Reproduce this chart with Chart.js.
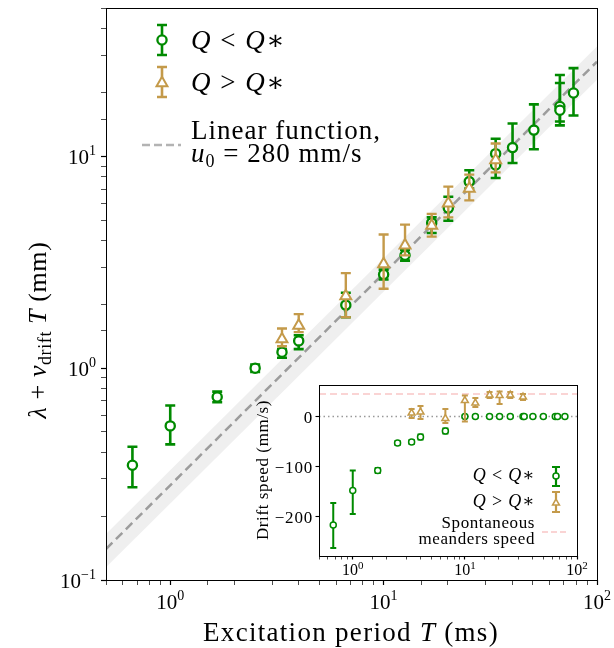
<!DOCTYPE html>
<html lang="en">
<head>
<meta charset="UTF-8">
<title>Excitation period vs wavelength</title>
<script src="https://cdn.jsdelivr.net/npm/chart.js"></script>
<style>
  body { margin: 0; background: #fff; }
  .wrap { position: relative; width: 614px; height: 648px; }
  .wrap canvas { position: absolute; left: 0; top: 0; }
</style>
</head>
<body>
<div class="wrap">
  <canvas id="mainChart" width="614" height="648"></canvas>
  <canvas id="insetChart" width="614" height="648"></canvas>
</div>
<script>
// ---- main panel: lambda + v_drift T (mm) vs T (ms) ----
const lowT  = [0.665, 1.0, 1.66, 2.5, 3.34, 4.0, 6.65, 10.0, 12.6, 16.8, 20.1, 25.2, 33.5, 33.5, 40.2, 50.6, 67, 67, 77.6];
const lowL  = [0.348, 0.534, 0.731, 1.0, 1.19, 1.345, 1.985, 2.77, 3.41, 4.85, 5.7, 7.6, 10.3, 9.1, 11.0, 13.3, 17.2, 16.5, 19.9];
const lowLo = [0.274, 0.437, 0.69, 0.96, 1.12, 1.23, 1.74, 2.62, 3.22, 4.35, 4.97, 7.05, 9.4, 7.9, 9.3, 10.8, 14.0, 14.6, 15.6];
const lowHi = [0.426, 0.666, 0.775, 1.04, 1.23, 1.43, 2.27, 2.92, 3.62, 5.15, 6.45, 8.6, 12.1, 10.2, 14.3, 17.6, 24.2, 22.2, 26.1];

const highT  = [3.34, 4.0, 6.65, 10.0, 12.6, 16.8, 20.1, 25.2, 33.5];
const highL  = [1.37, 1.59, 2.19, 3.1, 3.8, 4.71, 6.0, 7.05, 9.6];
const highLo = [1.27, 1.48, 1.74, 2.37, 3.41, 4.18, 5.15, 6.2, 8.4];
const highHi = [1.54, 1.80, 2.81, 4.28, 4.76, 5.35, 7.2, 8.2, 11.5];

// linear function u0 = 280 mm/s and its shaded band
const fitT   = [0.5, 100];
const fitL   = [0.14, 28];
const bandLo = [0.115, 23];
const bandHi = [0.165, 33];

// ---- inset: drift speed (mm/s) vs T (ms) ----
const dLowT  = [0.67, 1.0, 1.67, 2.51, 3.35, 4.02, 6.7, 10, 12.4, 16.6, 20.4, 25.4, 33, 33.8, 40.4, 50.1, 64, 67, 78];
const dLowV  = [-217, -148, -108, -53, -51, -41, -29, 0, 0, 0, 0, 0, 0, 0, 0, 0, 0, 0, 0];
const dLowLo = [-263, -195, -113, -57, -55, -46, -34, -2, -2, -2, -2, -2, -2, -3, -2, -2, -2, -2, -2];
const dLowHi = [-173, -108, -103, -49, -47, -36, -24, 2, 2, 2, 2, 2, 2, 3, 2, 2, 2, 2, 2];

const dHighT  = [3.35, 4.02, 6.7, 10, 12.4, 16.6, 20.4, 25.4, 33];
const dHighV  = [7, 9, -4, 32, 27, 43, 42, 43, 39];
const dHighLo = [-3, -5, -13, -10, 19, 37, 25, 37, 33];
const dHighHi = [15, 21, 15, 42, 37, 49, 50, 49, 45];

const refT = [0.5, 100];
const zeroV = [0, 0];
const meanderV = [45, 45];

const GREEN = '#008a00';
const GOLD = '#c49a4a';
const SERIF = '"Liberation Serif", "DejaVu Serif", serif';
const font = (size, style) => (style ? style + ' ' : '') + size + 'px ' + SERIF;
const pts = (xs, ys) => xs.map((x, i) => ({ x: x, y: ys[i] }));
const isPow10 = v => Math.abs(Math.log10(v) - Math.round(Math.log10(v))) < 1e-9;

// draw a run of text pieces with different fonts / offsets
function drawParts(ctx, parts, x, y, align, spacing) {
  ctx.save();
  ctx.letterSpacing = (spacing || 0) + 'px';
  let w = 0;
  parts.forEach(p => { ctx.font = p.font; p.w = ctx.measureText(p.text).width; w += p.w; });
  let cx = align === 'center' ? x - w / 2 : align === 'right' ? x - w : x;
  ctx.textAlign = 'left';
  ctx.textBaseline = 'alphabetic';
  parts.forEach(p => { ctx.font = p.font; ctx.fillText(p.text, cx, y + (p.dy || 0)); cx += p.w; });
  ctx.restore();
}

function powLabel(exp, big, small, rise) {
  return [{ text: '10', font: font(big) }, { text: exp, font: font(small), dy: -rise }];
}

function qLabel(size, op) {
  return [
    { text: 'Q', font: font(size, 'italic') },
    { text: ' ' + op + ' ', font: font(size) },
    { text: 'Q', font: font(size, 'italic') },
    { text: '\u2217', font: font(size) }
  ];
}

function drawMarker(ctx, shape, x, y, r, lw, color) {
  ctx.save();
  ctx.fillStyle = '#fff';
  ctx.strokeStyle = color;
  ctx.lineWidth = lw;
  ctx.beginPath();
  if (shape === 'circle') {
    ctx.arc(x, y, r, 0, Math.PI * 2);
  } else {
    for (let k = 0; k < 3; k++) {
      const a = -Math.PI / 2 + k * 2 * Math.PI / 3;
      const px = x + Math.cos(a) * r, py = y + Math.sin(a) * r;
      k ? ctx.lineTo(px, py) : ctx.moveTo(px, py);
    }
    ctx.closePath();
  }
  ctx.fill();
  ctx.stroke();
  ctx.restore();
}

function drawBar(ctx, x, y1, y2, cap, lw, color) {
  ctx.save();
  ctx.strokeStyle = color;
  ctx.lineWidth = lw;
  ctx.beginPath();
  ctx.moveTo(x, y1); ctx.lineTo(x, y2);
  ctx.moveTo(x - cap, y1); ctx.lineTo(x + cap, y1);
  ctx.moveTo(x - cap, y2); ctx.lineTo(x + cap, y2);
  ctx.stroke();
  ctx.restore();
}

// error bars drawn just before each dataset's markers
const errorBars = {
  id: 'errorBars',
  beforeDatasetDraw(chart, args) {
    const ds = chart.data.datasets[args.index];
    if (!ds.errLo) return;
    const xs = chart.scales.x, ys = chart.scales.y;
    ds.data.forEach((p, i) => {
      drawBar(chart.ctx, xs.getPixelForValue(p.x), ys.getPixelForValue(ds.errLo[i]),
        ys.getPixelForValue(ds.errHi[i]), ds.capHalf, ds.errWidth, ds.borderColor);
    });
  }
};

const frame = {
  id: 'frame',
  beforeDraw(chart, args, opts) {
    if (!opts.fill) return;
    const a = chart.chartArea;
    chart.ctx.save();
    chart.ctx.fillStyle = '#fff';
    chart.ctx.fillRect(a.left, a.top, a.right - a.left, a.bottom - a.top);
    chart.ctx.restore();
  },
  afterDraw(chart) {
    const a = chart.chartArea, ctx = chart.ctx;
    ctx.save();
    ctx.strokeStyle = '#000';
    ctx.lineWidth = 1;
    ctx.strokeRect(Math.round(a.left) + 0.5, Math.round(a.top) + 0.5,
      Math.round(a.right - a.left), Math.round(a.bottom - a.top));
    ctx.restore();
  }
};

function logAxis(min, max, tickLen, extra) {
  return Object.assign({
    type: 'logarithmic', min: min, max: max,
    border: { display: false },
    grid: {
      drawOnChartArea: false, drawTicks: true, tickLength: tickLen, color: '#000',
      tickWidth: c => (c.tick && isPow10(c.tick.value)) ? 1.2 : 0.7
    },
    ticks: { display: false, autoSkip: false }
  }, extra);
}

// ---------------- main chart ----------------
const mainLabels = {
  id: 'mainLabels',
  afterDraw(chart) {
    const ctx = chart.ctx, xs = chart.scales.x, ys = chart.scales.y;
    ctx.save();
    ctx.fillStyle = '#000';
    [[1, '0'], [10, '1'], [100, '2']].forEach(([v, e]) => {
      drawParts(ctx, powLabel(e, 21, 14, 9), xs.getPixelForValue(v), 609, 'center');
    });
    [[0.1, '\u22121'], [1, '0'], [10, '1']].forEach(([v, e]) => {
      drawParts(ctx, powLabel(e, 21, 14, 9), 96, ys.getPixelForValue(v) + 8, 'right');
    });
    // axis titles
    drawParts(ctx, [
      { text: 'Excitation period ', font: font(27) },
      { text: 'T', font: font(27, 'italic') },
      { text: ' (ms)', font: font(27) }
    ], 351, 641, 'center', 1.3);
    ctx.save();
    ctx.translate(46, 330);
    ctx.rotate(-Math.PI / 2);
    drawParts(ctx, [
      { text: '\u03bb', font: font(26, 'italic') },
      { text: ' + ', font: font(26) },
      { text: 'v', font: font(26, 'italic') },
      { text: 'drift', font: font(18), dy: 5 },
      { text: ' T', font: font(26, 'italic') },
      { text: ' (mm)', font: font(26) }
    ], 0, 0, 'center', 0.6);
    ctx.restore();

    // legend
    drawBar(ctx, 162, 25, 55, 5, 2.6, GREEN);
    drawMarker(ctx, 'circle', 162, 40, 4.6, 2.3, GREEN);
    drawParts(ctx, qLabel(27, '<'), 191, 49, 'left', 1.5);
    drawBar(ctx, 162, 67, 97, 5, 2.6, GOLD);
    drawMarker(ctx, 'triangle', 162, 83, 6.3, 2, GOLD);
    drawParts(ctx, qLabel(27, '>'), 191, 91, 'left', 1.5);
    ctx.save();
    ctx.strokeStyle = 'rgba(128,128,128,0.6)';
    ctx.lineWidth = 2.5;
    ctx.setLineDash([8, 4]);
    ctx.beginPath();
    ctx.moveTo(142, 145); ctx.lineTo(181, 145);
    ctx.stroke();
    ctx.restore();
    drawParts(ctx, [{ text: 'Linear function,', font: font(27) }], 191, 139, 'left', 1);
    drawParts(ctx, [
      { text: 'u', font: font(27, 'italic') },
      { text: '0', font: font(18), dy: 5 },
      { text: ' = 280 mm/s', font: font(27) }
    ], 191, 162, 'left', 1);
    ctx.restore();
  }
};

new Chart(document.getElementById('mainChart'), {
  type: 'line',
  data: {
    datasets: [
      { data: pts(fitT, bandHi), borderWidth: 0, pointRadius: 0, fill: '+1',
        backgroundColor: 'rgba(128,128,128,0.13)', order: 6 },
      { data: pts(fitT, bandLo), borderWidth: 0, pointRadius: 0, fill: false, order: 6 },
      { data: pts(fitT, fitL), borderColor: 'rgba(128,128,128,0.75)', borderWidth: 2.5,
        borderDash: [9, 5], pointRadius: 0, fill: false, order: 5 },
      { data: pts(lowT, lowL), showLine: false, pointStyle: 'circle', pointRadius: 4.6,
        pointBorderWidth: 2.3, borderColor: GREEN, pointBackgroundColor: '#fff',
        errLo: lowLo, errHi: lowHi, capHalf: 5, errWidth: 2.6, order: 2 },
      { data: pts(highT, highL), showLine: false, pointStyle: 'triangle', pointRadius: 6.3,
        pointBorderWidth: 2, borderColor: GOLD, pointBackgroundColor: '#fff',
        errLo: highLo, errHi: highHi, capHalf: 5, errWidth: 2.4, order: 1 }
    ]
  },
  options: {
    responsive: false,
    animation: false,
    events: [],
    layout: { padding: { top: 4, right: 17, left: 0, bottom: 0 } },
    plugins: { legend: { display: false }, tooltip: { enabled: false }, frame: { fill: false } },
    scales: {
      x: logAxis(0.5, 100, 5, { afterFit(s) { s.height = 68; } }),
      y: logAxis(0.1, 50, 5, { afterFit(s) { s.width = 106; } })
    }
  },
  plugins: [errorBars, frame, mainLabels]
});

// ---------------- inset chart ----------------
const insetLabels = {
  id: 'insetLabels',
  afterDraw(chart) {
    const ctx = chart.ctx, xs = chart.scales.x, ys = chart.scales.y;
    ctx.save();
    ctx.fillStyle = '#000';
    [[1, '0'], [10, '1'], [100, '2']].forEach(([v, e]) => {
      drawParts(ctx, powLabel(e, 16, 11, 6), xs.getPixelForValue(v), 575, 'center');
    });
    [[0, '0'], [-100, '\u2212100'], [-200, '\u2212200']].forEach(([v, t]) => {
      drawParts(ctx, [{ text: t, font: font(17) }], 313, ys.getPixelForValue(v) + 6, 'right', 0.8);
    });
    ctx.save();
    ctx.translate(268, 470);
    ctx.rotate(-Math.PI / 2);
    drawParts(ctx, [{ text: 'Drift speed (mm/s)', font: font(17) }], 0, 0, 'center', 0.6);
    ctx.restore();

    // legend, markers on the right
    drawParts(ctx, qLabel(18, '<'), 535, 481, 'right', 0.8);
    drawBar(ctx, 556, 467, 486, 4, 2.2, GREEN);
    drawMarker(ctx, 'circle', 556, 476, 3, 1.6, GREEN);
    drawParts(ctx, qLabel(18, '>'), 535, 507, 'right', 0.8);
    drawBar(ctx, 556, 492, 512, 4, 2.2, GOLD);
    drawMarker(ctx, 'triangle', 556, 503, 4, 1.5, GOLD);
    drawParts(ctx, [{ text: 'Spontaneous', font: font(17) }], 535, 528, 'right', 0.6);
    drawParts(ctx, [{ text: 'meanders speed', font: font(17) }], 535, 544, 'right', 0.6);
    ctx.strokeStyle = 'rgba(240,128,128,0.45)';
    ctx.lineWidth = 1.5;
    ctx.setLineDash([6, 3]);
    ctx.beginPath();
    ctx.moveTo(542, 532); ctx.lineTo(569, 532);
    ctx.stroke();
    ctx.restore();
  }
};

new Chart(document.getElementById('insetChart'), {
  type: 'line',
  data: {
    datasets: [
      { data: pts(refT, meanderV), borderColor: 'rgba(240,128,128,0.45)', borderWidth: 1.5,
        borderDash: [7, 4], pointRadius: 0, fill: false, order: 6 },
      { data: pts(refT, zeroV), borderColor: '#999', borderWidth: 1.5,
        borderDash: [1.5, 3], pointRadius: 0, fill: false, order: 5 },
      { data: pts(dLowT, dLowV), showLine: false, pointStyle: 'circle', pointRadius: 3,
        pointBorderWidth: 1.5, borderColor: GREEN, pointBackgroundColor: '#fff',
        errLo: dLowLo, errHi: dLowHi, capHalf: 3, errWidth: 2, order: 2 },
      { data: pts(dHighT, dHighV), showLine: false, pointStyle: 'triangle', pointRadius: 4,
        pointBorderWidth: 1.5, borderColor: GOLD, pointBackgroundColor: '#fff',
        errLo: dHighLo, errHi: dHighHi, capHalf: 3, errWidth: 2, order: 1 }
    ]
  },
  options: {
    responsive: false,
    animation: false,
    events: [],
    layout: { padding: { top: 385, right: 37, left: 0, bottom: 0 } },
    plugins: { legend: { display: false }, tooltip: { enabled: false }, frame: { fill: true } },
    scales: {
      x: logAxis(0.5, 100, 3.5, { afterFit(s) { s.height = 92; } }),
      y: {
        type: 'linear', min: -279, max: 63,
        border: { display: false },
        grid: { drawOnChartArea: false, drawTicks: true, tickLength: 3.5, color: '#000', tickWidth: 1.1 },
        ticks: { display: false },
        afterBuildTicks(s) { s.ticks = [-200, -100, 0].map(v => ({ value: v })); },
        afterFit(s) { s.width = 319; }
      }
    }
  },
  plugins: [errorBars, frame, insetLabels]
});
</script>
</body>
</html>
